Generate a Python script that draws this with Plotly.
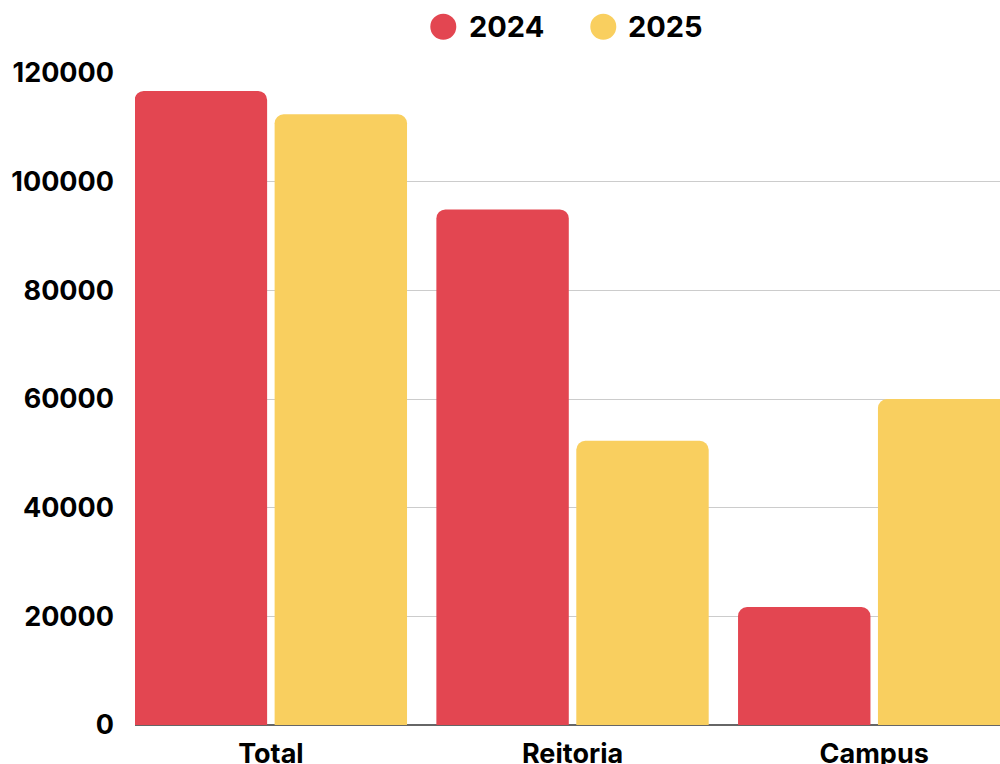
import plotly.graph_objects as go

categories = ["Total", "Reitoria", "Campus"]
values_2024 = [116700, 94900, 21700]
values_2025 = [112400, 52300, 60000]
series_names = ["2024", "2025"]
y_ticks = [0, 20000, 40000, 60000, 80000, 100000, 120000]

RED = "#E34651"
YELLOW = "#F9CF5F"
FONT = "Inter"

fig = go.Figure()
fig.add_trace(go.Bar(x=categories, y=values_2024, name=series_names[0],
                     marker=dict(color=RED, cornerradius=9, line=dict(width=0)),
                     showlegend=False))
fig.add_trace(go.Bar(x=categories, y=values_2025, name=series_names[1],
                     marker=dict(color=YELLOW, cornerradius=9, line=dict(width=0)),
                     showlegend=False))

W, H = 1000, 764
L, R, T, B = 135, 0, 73, 39
pw, ph = W - L - R, H - T - B

def px_x(p):  # window pixel -> paper
    return (p - L) / pw

def px_y(p):
    return (H - B - p) / ph

# custom legend with large circular markers
leg = [(series_names[0], RED, 443.3, 467), (series_names[1], YELLOW, 603.3, 626)]
for name, col, cx, tx in leg:
    fig.add_shape(type="circle", xref="paper", yref="paper",
                  xsizemode="pixel", ysizemode="pixel",
                  xanchor=px_x(cx), yanchor=px_y(26.7),
                  x0=-13, x1=13, y0=-13, y1=13,
                  fillcolor=col, line=dict(width=0))
    fig.add_annotation(text=name, xref="paper", yref="paper",
                       x=px_x(tx), y=px_y(27), xanchor="left", yanchor="middle",
                       showarrow=False,
                       font=dict(family=FONT, size=29, color="#000", weight=700))

fig.update_layout(
    width=W, height=H,
    margin=dict(l=L, r=R, t=T, b=B, pad=0, autoexpand=False),
    paper_bgcolor="white", plot_bgcolor="white",
    barmode="group", bargap=0.0724, bargroupgap=0.0536,
    font=dict(family=FONT, size=27, color="#000", weight=700),
    xaxis=dict(range=[-0.4504, 2.417], showgrid=False, showline=False,
               automargin=False, ticks="", ticklabelstandoff=10,
               tickfont=dict(family=FONT, size=27, color="#000", weight=700)),
    yaxis=dict(range=[0, 120000], tickvals=y_ticks, ticktext=[str(v) for v in y_ticks],
               showgrid=True, gridcolor="#CCCCCC", gridwidth=1,
               zeroline=True, zerolinecolor="#666666", zerolinewidth=1.5,
               automargin=False, showline=False, ticks="", ticklabelstandoff=20,
               tickfont=dict(family=FONT, size=27, color="#000", weight=700)),
)

fig.write_html("out.html", config={"displayModeBar": False},
               post_script="document.body.style.margin='0';document.body.style.overflow='hidden';")
